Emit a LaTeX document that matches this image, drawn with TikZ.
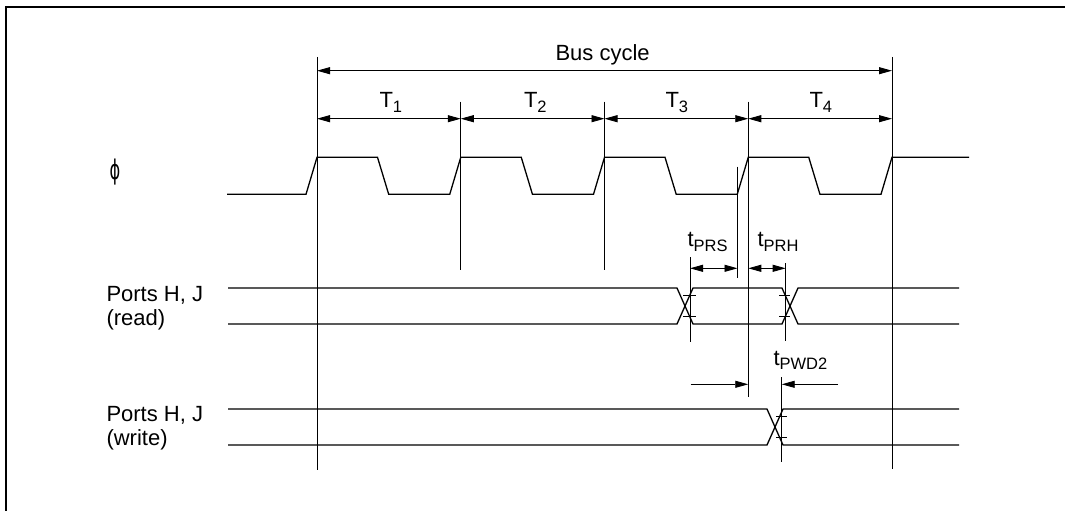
\documentclass[tikz,border=0pt]{standalone}
\usepackage{fontspec}
\setmainfont{Liberation Sans}
\newfontfamily\phifont{DejaVu Sans}
\usetikzlibrary{arrows.meta}
\newcommand\lsub[1]{\raisebox{-4.5pt}{\fontsize{16.5}{17}\selectfont #1}}
\begin{document}
\begin{tikzpicture}[x=1pt,y=-1pt,
  every node/.style={inner sep=0pt,outer sep=0pt},
  lbl/.style={anchor=base west,font=\fontsize{22}{26}\selectfont},
  guide/.style={line width=0.9pt},
  sig/.style={line width=1.3pt,line join=miter},
  tick/.style={line width=0.8pt},
  dim/.style={{Triangle[length=13pt,width=7pt]}-{Triangle[length=13pt,width=7pt]},line width=0.9pt},
  onearrow/.style={-{Triangle[length=13pt,width=7pt]},line width=0.9pt},
  frame/.style={line width=2.3pt}]
\useasboundingbox (0,0) rectangle (1065,511);
% frame
\coordinate (fb) at (6,511);
\coordinate (ftl) at (6,7);
\coordinate (fr) at (1065,7);
\draw[frame] (fb) -- (ftl) -- (fr);

% vertical guide lines
\coordinate (L0t) at (317,57);     \coordinate (L0b) at (317,470);
\coordinate (L1t) at (460.75,101.7); \coordinate (L1b) at (460.75,270);
\coordinate (L2t) at (604.5,101.7);  \coordinate (L2b) at (604.5,270);
\coordinate (L3t) at (748.25,101.7); \coordinate (L3b) at (748.25,397);
\coordinate (L4t) at (892,57);     \coordinate (L4b) at (892,469);
\coordinate (Ext) at (737.5,166.7);  \coordinate (Exb) at (737.5,278);
\coordinate (Pst) at (690,257);    \coordinate (Psb) at (690,342);
\coordinate (Pht) at (785.7,263);  \coordinate (Phb) at (785.7,341);
\coordinate (Pwt) at (781.7,377);  \coordinate (Pwb) at (781.7,462);
\foreach \a in {L0,L1,L2,L3,L4}{\draw[guide] (\a t) -- (\a b);}
\draw[guide] (Ext) -- (Exb);
\draw[guide] (Pst) -- (Psb);
\draw[guide] (Pht) -- (Phb);
\draw[guide] (Pwt) -- (Pwb);

% bus cycle and T arrows
\coordinate (bcL) at (317,70.7); \coordinate (bcR) at (892,70.7);
\draw[dim] (bcL) -- (bcR);
\node[lbl] (bus) at (555.5,60) {Bus cycle};
\coordinate (a0) at (317,118.7);
\coordinate (a1) at (460.75,118.7);
\coordinate (a2) at (604.5,118.7);
\coordinate (a3) at (748.25,118.7);
\coordinate (a4) at (892,118.7);
\draw[dim] (a0) -- (a1);
\draw[dim] (a1) -- (a2);
\draw[dim] (a2) -- (a3);
\draw[dim] (a3) -- (a4);
\node[lbl] (T1) at (379.5,107.5) {T\lsub{1}};
\node[lbl] (T2) at (524,107.5) {T\lsub{2}};
\node[lbl] (T3) at (665.5,107.5) {T\lsub{3}};
\node[lbl] (T4) at (809.5,107.5) {T\lsub{4}};

% clock
\node (phi) at (115,172) {\scalebox{0.6}[1]{\fontsize{27}{30}\phifont ϕ}};
\draw[sig] (227,194.3) -- (306,194.3) -- (317,157.3) -- (377.5,157.3) -- (388.7,194.3)
  -- (449.75,194.3) -- (460.75,157.3) -- (521.25,157.3) -- (532.45,194.3)
  -- (593.5,194.3) -- (604.5,157.3) -- (665,157.3) -- (676.2,194.3)
  -- (737.25,194.3) -- (748.25,157.3) -- (808.75,157.3) -- (819.95,194.3)
  -- (881,194.3) -- (892,157.3) -- (969,157.3);

% timing arrows
\coordinate (prsL) at (690,268.3); \coordinate (prsR) at (737.5,268.3);
\coordinate (prhL) at (748.25,268.3); \coordinate (prhR) at (785.7,268.3);
\draw[dim] (prsL) -- (prsR);
\draw[dim] (prhL) -- (prhR);
\node[lbl] (tprs) at (687.5,246.7) {t\lsub{PRS}};
\node[lbl] (tprh) at (757.5,246.7) {t\lsub{PRH}};
\coordinate (pwA) at (690.7,384.3); \coordinate (pwAe) at (748.25,384.3);
\coordinate (pwB) at (838,384.3);   \coordinate (pwBe) at (781.7,384.3);
\draw[onearrow] (pwA) -- (pwAe);
\draw[onearrow] (pwB) -- (pwBe);
\node[lbl] (tpwd) at (773.5,365) {t\lsub{PWD2}};

% ports read
\node[lbl] (pr1) at (106.5,301.7) {Ports H, J};
\node[lbl] (pr2) at (106.5,325) {(read)};
\draw[sig] (228,288) -- (677,288) -- (693,324) -- (782,324) -- (798,288) -- (959,288);
\draw[sig] (228,324) -- (677,324) -- (693,288) -- (782,288) -- (798,324) -- (959,324);
\draw[tick] (683,295) -- (696,295);
\draw[tick] (683,316) -- (696,316);
\draw[tick] (779,295) -- (790,295);
\draw[tick] (779,316) -- (790,316);

% ports write
\node[lbl] (pw1) at (106.5,421.7) {Ports H, J};
\node[lbl] (pw2) at (106.5,445) {(write)};
\draw[sig] (228,409) -- (767,409) -- (783,445) -- (959,445);
\draw[sig] (228,445) -- (767,445) -- (783,409) -- (959,409);
\draw[tick] (776,416.7) -- (787,416.7);
\draw[tick] (776,437.3) -- (787,437.3);
\end{tikzpicture}
\end{document}
